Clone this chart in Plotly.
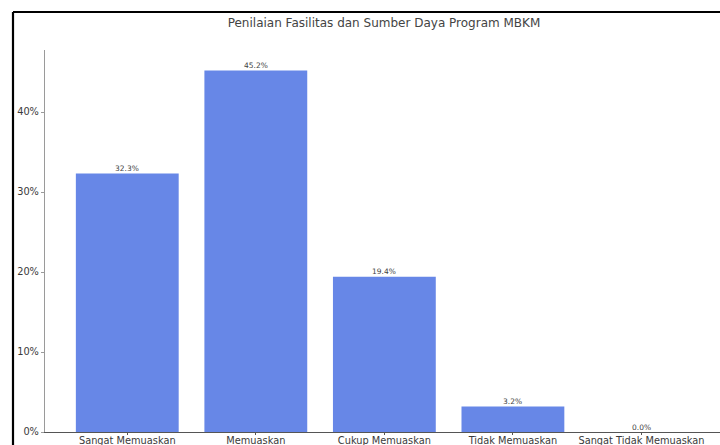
import plotly.graph_objects as go

categories = ["Sangat Memuaskan", "Memuaskan", "Cukup Memuaskan", "Tidak Memuaskan", "Sangat Tidak Memuaskan"]
percentages = [32.3, 45.2, 19.4, 3.2, 0.0]
y_ticks = [0, 10, 20, 30, 40]
title_text = "Penilaian Fasilitas dan Sumber Daya Program MBKM"

W, H = 720, 445
L, R, T, B = 45, 0, 50, 13
pw = W - L - R
ph = H - T - B

fig = go.Figure()
fig.add_trace(go.Bar(
    x=list(range(len(categories))),
    y=percentages,
    width=0.8,
    marker=dict(color="#6787E7", line=dict(width=0)),
    showlegend=False,
    hoverinfo="skip",
))

for i, v in enumerate(percentages):
    fig.add_annotation(x=i, y=v, text=f"{v:.1f}%", showarrow=False, xref="x", yref="y",
                       yanchor="bottom", yshift=-1.5,
                       font=dict(family="DejaVu Sans", size=7.5, color="#444444"))

fig.update_layout(
    width=W, height=H,
    margin=dict(l=L, r=R, t=T, b=B, autoexpand=False),
    paper_bgcolor="white", plot_bgcolor="white",
    bargap=0.2,
    font=dict(family="DejaVu Sans", color="#444444"),
    title=dict(text=title_text, x=(384) / W, xanchor="center", y=1 - 23 / H, yanchor="middle",
               font=dict(family="DejaVu Sans", size=12, color="#444444")),
    xaxis=dict(
        range=[-0.64, 4.611],
        tickmode="array",
        tickvals=list(range(len(categories))),
        ticktext=categories,
        showgrid=False, zeroline=False,
        showline=True, linecolor="#555555", linewidth=1.2,
        ticks="outside", ticklen=2, tickcolor="#555555", tickwidth=1,
        tickfont=dict(family="DejaVu Sans", size=9.8, color="#3a3a3a"),
        ticklabelstandoff=-3,
        automargin=False,
    ),
    yaxis=dict(
        range=[0, 47.75],
        tickmode="array",
        tickvals=y_ticks,
        ticktext=[f"{t}%" for t in y_ticks],
        showgrid=False, zeroline=False,
        showline=True, linecolor="#9A9A9A", linewidth=1.2,
        ticks="outside", ticklen=3, tickcolor="#9A9A9A", tickwidth=1,
        tickfont=dict(family="DejaVu Sans", size=9.8, color="#3a3a3a"),
        automargin=False,
    ),
)

# black frame lines (left and top) of the cropped picture
bx = (13 - L) / pw
by = (H - B - 12) / ph
fig.add_shape(type="line", xref="paper", yref="paper", x0=bx, x1=bx, y0=(H - B - 445) / ph, y1=by,
              line=dict(color="black", width=2.2))
fig.add_shape(type="line", xref="paper", yref="paper", x0=bx, x1=(W - L + 5) / pw, y0=by, y1=by,
              line=dict(color="black", width=2.2))

fig.write_html("out.html", config={"displayModeBar": False},
               post_script="document.body.style.margin='0';document.body.style.overflow='hidden';")
